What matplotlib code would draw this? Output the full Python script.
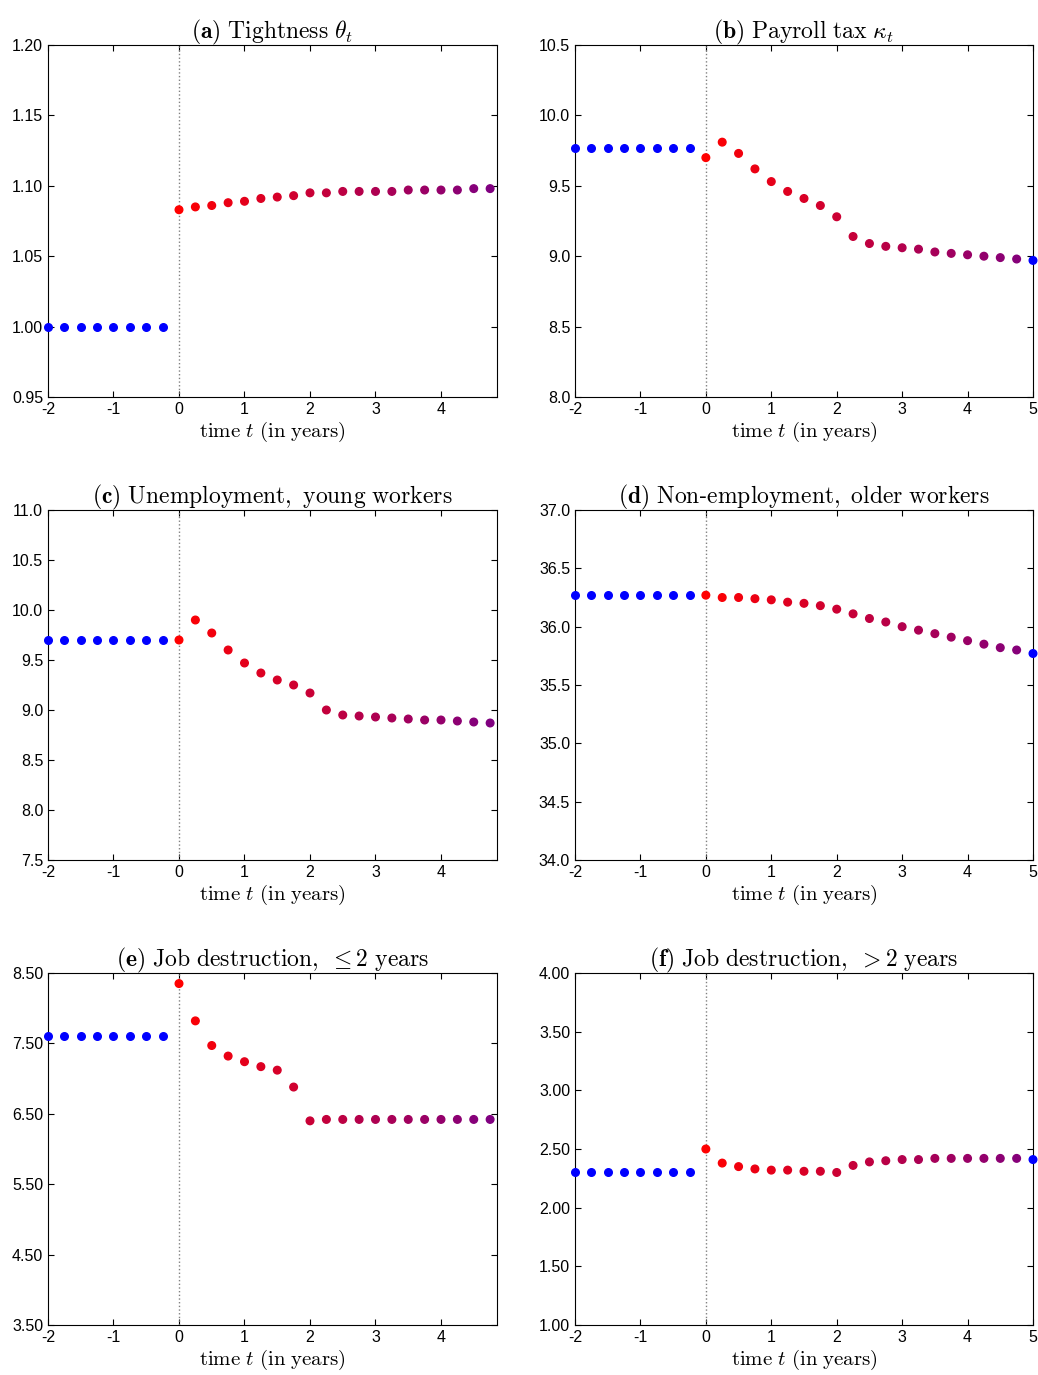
import matplotlib
matplotlib.use("Agg")
import matplotlib.pyplot as plt
import numpy as np

plt.rcParams['mathtext.fontset'] = 'cm'
plt.rcParams['font.family'] = ['Liberation Sans', 'DejaVu Sans']
plt.rcParams['axes.unicode_minus'] = False

t_pre = np.arange(-2, 0, 0.25)
t_post = np.arange(0, 5.01, 0.25)

titles = [r'$\mathbf{(a)}\ \mathrm{Tightness}\ \theta_t$',
          r'$\mathbf{(b)}\ \mathrm{Payroll\ tax}\ \kappa_t$',
          r'$\mathbf{(c)}\ \mathrm{Unemployment,\ young\ workers}$',
          r'$\mathbf{(d)}\ \mathrm{Non}$-$\mathrm{employment,\ older\ workers}$',
          r'$\mathbf{(e)}\ \mathrm{Job\ destruction,}\ \leq 2\ \mathrm{years}$',
          r'$\mathbf{(f)}\ \mathrm{Job\ destruction,}\ > 2\ \mathrm{years}$']

pre_vals = [1.0, 9.77, 9.70, 36.27, 7.60, 2.30]

tight = [1.083, 1.085, 1.086, 1.088, 1.089, 1.091, 1.092, 1.093, 1.095, 1.095,
         1.096, 1.096, 1.096, 1.096, 1.097, 1.097, 1.097, 1.097, 1.098, 1.098]
tax = [9.70, 9.81, 9.73, 9.62, 9.53, 9.46, 9.41, 9.36, 9.28, 9.14, 9.09,
       9.07, 9.06, 9.05, 9.03, 9.02, 9.01, 9.00, 8.99, 8.98, 8.97]
unemp = [9.70, 9.90, 9.77, 9.60, 9.47, 9.37, 9.30, 9.25, 9.17, 9.00, 8.95,
         8.94, 8.93, 8.92, 8.91, 8.90, 8.90, 8.89, 8.88, 8.87]
nonemp = [36.27, 36.25, 36.25, 36.24, 36.23, 36.21, 36.20, 36.18, 36.15, 36.11,
          36.07, 36.04, 36.00, 35.97, 35.94, 35.91, 35.88, 35.85, 35.82, 35.80, 35.77]
jd_young = [8.35, 7.82, 7.47, 7.32, 7.24, 7.17, 7.12, 6.88, 6.40, 6.42, 6.42,
            6.42, 6.42, 6.42, 6.42, 6.42, 6.42, 6.42, 6.42, 6.42]
jd_old = [2.50, 2.38, 2.35, 2.33, 2.32, 2.32, 2.31, 2.31, 2.30, 2.36, 2.39,
          2.40, 2.41, 2.41, 2.42, 2.42, 2.42, 2.42, 2.42, 2.42, 2.41]
post_vals = [tight, tax, unemp, nonemp, jd_young, jd_old]

ylims = [(0.95, 1.20), (8.0, 10.5), (7.5, 11.0), (34.0, 37.0), (3.5, 8.5), (1.0, 4.0)]
ysteps = [0.05, 0.5, 0.5, 0.5, 1.0, 0.5]
yfmt = ['%.2f', '%.1f', '%.1f', '%.1f', '%.2f', '%.2f']

fig = plt.figure(figsize=(10.38, 13.75), dpi=100)
W, H = 1038, 1375
boxes_y = [(45, 397), (510, 860), (973, 1325)]
boxes_x = [(48, 497), (575, 1033)]

for i in range(6):
    r, c = divmod(i, 2)
    x0, x1 = boxes_x[c]
    y0, y1 = boxes_y[r]
    ax = fig.add_axes([x0 / W, 1 - y1 / H, (x1 - x0) / W, (y1 - y0) / H])
    post = post_vals[i]
    tp = t_post[:len(post)]
    n = len(post)
    frac = np.linspace(0, 1, n)
    cols = [(1 - 0.5 * f, 0, 0.5 * f) for f in frac]
    if n == 21:
        cols[-1] = (0, 0, 1)
    ax.scatter(t_pre, [pre_vals[i]] * len(t_pre), s=30, color='blue', zorder=3, clip_on=False)
    ax.scatter(tp, post, s=30, c=cols, zorder=3, clip_on=False)
    ax.axvline(0, color='gray', ls=':', lw=1)
    ax.set_xlim(-2, 4.855 if c == 0 else 5)
    ax.set_ylim(*ylims[i])
    ax.set_xticks(np.arange(-2, 5.01 if c else 4.5, 1))
    yt = np.arange(ylims[i][0], ylims[i][1] + 1e-9, ysteps[i])
    ax.set_yticks(yt)
    ax.set_yticklabels([yfmt[i] % v for v in yt])
    ax.tick_params(direction='in', top=True, right=True, labelsize=11.5, length=4)
    ax.set_title(titles[i], fontsize=17, pad=5)
    ax.set_xlabel(r'$\mathrm{time}\ t\ \mathrm{(in\ years)}$', fontsize=15, labelpad=2)

fig.savefig('out.png', dpi=100)
